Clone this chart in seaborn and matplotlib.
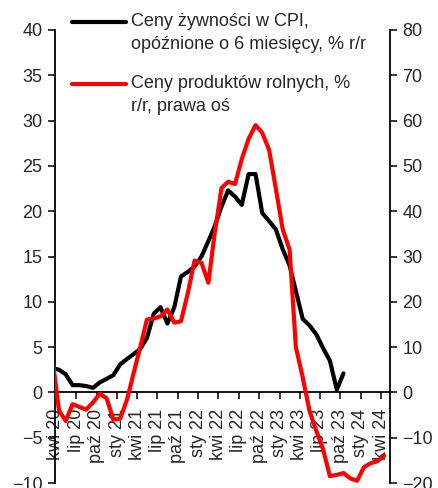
import numpy as np
import pandas as pd
import matplotlib
matplotlib.use("Agg")
import matplotlib.pyplot as plt
import seaborn as sns
from matplotlib.legend_handler import HandlerLine2D

# miesiace od marca 2020 (punkty w polowie miesiaca)
start = "2020-03-01"

# Ceny zywnosci w CPI, opoznione o 6 miesiecy, % r/r (lewa os), mar 20 - paz 23
cpi_food = [2.7, 2.5, 2.0, 0.8, 0.8, 0.7, 0.5, 1.1, 1.5, 1.9, 3.1, 3.7, 4.2, 4.8,
            6.0, 8.7, 9.4, 7.6, 9.4, 12.8, 13.3, 13.9, 15.0, 16.7, 18.3, 20.5,
            22.3, 21.6, 20.7, 24.1, 24.1, 19.8, 18.9, 18.0, 15.8, 14.0, 11.2,
            8.1, 7.4, 6.4, 4.9, 3.5, 0.3, 2.1]

# Ceny produktow rolnych, % r/r (prawa os), mar 20 - kwi 24
agri = [8.0, -4.0, -6.3, -2.6, -3.2, -3.8, -2.2, -0.3, -1.3, -6.0, -5.8, -1.5,
        4.0, 10.0, 16.1, 16.3, 16.8, 18.3, 15.4, 15.7, 22.0, 29.1, 28.6, 24.2,
        35.0, 45.1, 46.5, 46.0, 51.5, 56.0, 59.0, 57.3, 53.5, 45.0, 36.0, 31.5,
        10.0, 3.3, -4.0, -8.5, -12.5, -18.5, -18.2, -17.8, -19.0, -19.5, -16.5,
        -15.6, -15.2, -14.0]

tick_labels = ["kwi 20", "lip 20", "paź 20", "sty 21", "kwi 21", "lip 21",
               "paź 21", "sty 22", "kwi 22", "lip 22", "paź 22", "sty 23",
               "kwi 23", "lip 23", "paź 23", "sty 24", "kwi 24"]

label_cpi = "Ceny żywności w CPI,\nopóźnione o 6 miesięcy, % r/r"
label_agri = "Ceny produktów rolnych, %\nr/r, prawa oś"

dates_agri = pd.date_range(start, periods=len(agri), freq="MS") + pd.Timedelta(days=14)
dates_cpi = dates_agri[:len(cpi_food)]
tick_dates = pd.date_range("2020-04-01", periods=len(tick_labels), freq="3MS")

sns.set_style("ticks")
plt.rcParams["font.family"] = ["Liberation Sans", "DejaVu Sans"]
plt.rcParams["font.size"] = 13

fig = plt.figure(figsize=(4.38, 4.88), dpi=100)
ax = fig.add_axes([55 / 438, 1 - 483 / 488, (390 - 55) / 438, (483 - 30) / 488])
ax2 = ax.twinx()

sns.lineplot(x=dates_cpi, y=cpi_food, ax=ax, color="black", linewidth=3,
             legend=False)
sns.lineplot(x=dates_agri, y=agri, ax=ax2, color="#ff0000", linewidth=3,
             legend=False)

ax.set_ylim(-10, 40)
ax.set_yticks(np.arange(-10, 41, 5))
ax2.set_ylim(-20, 80)
ax2.set_yticks(np.arange(-20, 81, 10))
ax.set_xlim(pd.Timestamp("2020-03-28"), pd.Timestamp("2024-05-11"))
ax.set_xticks(tick_dates)
ax.set_xticklabels(tick_labels)
ax.set_xlabel("")
ax.set_ylabel("")
ax2.set_ylabel("")

for a in (ax, ax2):
    a.spines["top"].set_visible(False)
    for s in a.spines.values():
        s.set_linewidth(1.3)
        s.set_color("black")
ax.spines["right"].set_visible(False)
ax.spines["bottom"].set_position(("data", 0))
ax2.spines["bottom"].set_visible(False)
ax2.spines["left"].set_visible(False)

ax.tick_params(axis="x", direction="out", length=5, width=1.3, pad=7,
               labelsize=13, labelrotation=90)
ax.tick_params(axis="y", direction="out", length=5, width=1.3, pad=4,
               labelsize=13)
ax2.tick_params(axis="y", direction="out", length=5, width=1.3, pad=4,
                labelsize=13)
for t in ax.get_xticklabels():
    t.set_verticalalignment("top")
    t.set_horizontalalignment("center")


class FirstLineHandler(HandlerLine2D):
    # linia legendy na wysokosci pierwszego wiersza opisu
    def create_artists(self, legend, orig_handle, xdescent, ydescent, width,
                       height, fontsize, trans):
        arts = super().create_artists(legend, orig_handle, xdescent, ydescent,
                                      width, height, fontsize, trans)
        for a in arts:
            a.set_ydata(np.asarray(a.get_ydata()) + 0.62 * fontsize)
        return arts


handles = [ax.get_lines()[0], ax2.get_lines()[0]]
leg = ax2.legend(handles, [label_cpi, label_agri], loc="upper left",
                 bbox_to_anchor=(0.05, 1.037), frameon=False, fontsize=13,
                 handlelength=3.0, handletextpad=0.3, labelspacing=1.2,
                 borderpad=0, borderaxespad=0,
                 handler_map={h: FirstLineHandler() for h in handles})
for t in leg.get_texts():
    t.set_linespacing(1.45)

fig.savefig("out.png", dpi=100)
